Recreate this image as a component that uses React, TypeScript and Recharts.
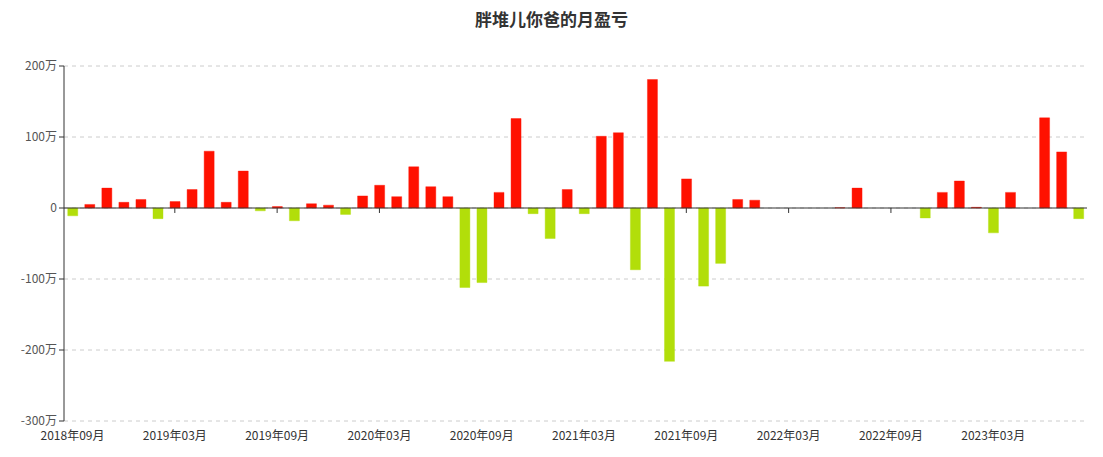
import { BarChart, Bar, XAxis, YAxis, CartesianGrid, ReferenceLine, Cell } from 'recharts';

const months = [
    '2018年09月', '2018年10月', '2018年11月', '2018年12月',
    '2019年01月', '2019年02月', '2019年03月', '2019年04月', '2019年05月', '2019年06月',
    '2019年07月', '2019年08月', '2019年09月', '2019年10月', '2019年11月', '2019年12月',
    '2020年01月', '2020年02月', '2020年03月', '2020年04月', '2020年05月', '2020年06月',
    '2020年07月', '2020年08月', '2020年09月', '2020年10月', '2020年11月', '2020年12月',
    '2021年01月', '2021年02月', '2021年03月', '2021年04月', '2021年05月', '2021年06月',
    '2021年07月', '2021年08月', '2021年09月', '2021年10月', '2021年11月', '2021年12月',
    '2022年01月', '2022年02月', '2022年03月', '2022年04月', '2022年05月', '2022年06月',
    '2022年07月', '2022年08月', '2022年09月', '2022年10月', '2022年11月', '2022年12月',
    '2023年01月', '2023年02月', '2023年03月', '2023年04月', '2023年05月', '2023年06月',
    '2023年07月', '2023年08月',
];

// monthly profit / loss, in 万
const profit = [
    -11, 5, 28, 8,
    12, -15, 9, 26, 80, 8,
    52, -4, 2, -18, 6, 4,
    -9, 17, 32, 16, 58, 30,
    16, -112, -105, 22, 126, -8,
    -43, 26, -8, 101, 106, -87,
    181, -216, 41, -110, -78, 12,
    11, 0, 0, 0, 0, 0.5,
    28, 0, 0, 0, -14, 22,
    38, 1, -35, 22, 0, 127,
    79, -15,
];

const yTicks = [-300, -200, -100, 0, 100, 200];
const tickMonths = months.filter((_, i) => i % 6 === 0);

const UP = '#ff1100';
const DOWN = '#b2de0a';

const data = months.map((month, i) => ({ month, value: profit[i] }));

export default function App() {
    return (
        <div
            style={{
                position: 'absolute',
                left: 0,
                top: 0,
                width: 1103,
                height: 457,
                background: '#fff',
                fontFamily: "'Noto Sans CJK SC', 'Noto Sans', sans-serif",
            }}
        >
            <div
                style={{
                    position: 'absolute',
                    top: 6,
                    width: '100%',
                    textAlign: 'center',
                    fontSize: 17,
                    fontWeight: 700,
                    color: '#333',
                }}
            >
                胖堆儿你爸的月盈亏
            </div>
            <BarChart
                width={1103}
                height={457}
                data={data}
                margin={{ top: 66, right: 16, left: 0, bottom: 0 }}
                barCategoryGap="22%"
            >
                <CartesianGrid vertical={false} stroke="#ccc" strokeDasharray="4 4" />
                <XAxis
                    dataKey="month"
                    interval={5}
                    height={36}
                    axisLine={false}
                    tickLine={false}
                    tickMargin={4}
                    tick={{ fill: '#333', fontSize: 12 }}
                />
                <YAxis
                    width={64}
                    domain={[-300, 200]}
                    ticks={yTicks}
                    allowDataOverflow
                    axisLine={{ stroke: '#333' }}
                    tickLine={{ stroke: '#333' }}
                    tickSize={5}
                    tickMargin={2}
                    tick={{ fill: '#555', fontSize: 12 }}
                    tickFormatter={(v: number) => (v === 0 ? '0' : `${v}万`)}
                />
                {/* small category ticks hanging under the zero line, behind the bars */}
                {tickMonths.map((m) => (
                    <ReferenceLine
                        key={m}
                        segment={[{ x: m, y: 0 }, { x: m, y: -7 }]}
                        stroke="#333"
                        zIndex={0}
                    />
                ))}
                <Bar dataKey="value" isAnimationActive={false} strokeWidth={1}>
                    {data.map((d, i) => (
                        <Cell
                            key={i}
                            fill={d.value >= 0 ? UP : DOWN}
                            stroke={d.value >= 0 ? UP : DOWN}
                            strokeOpacity={0.4}
                        />
                    ))}
                </Bar>
                <ReferenceLine y={0} stroke="#333" strokeWidth={1} />
            </BarChart>
        </div>
    );
}
